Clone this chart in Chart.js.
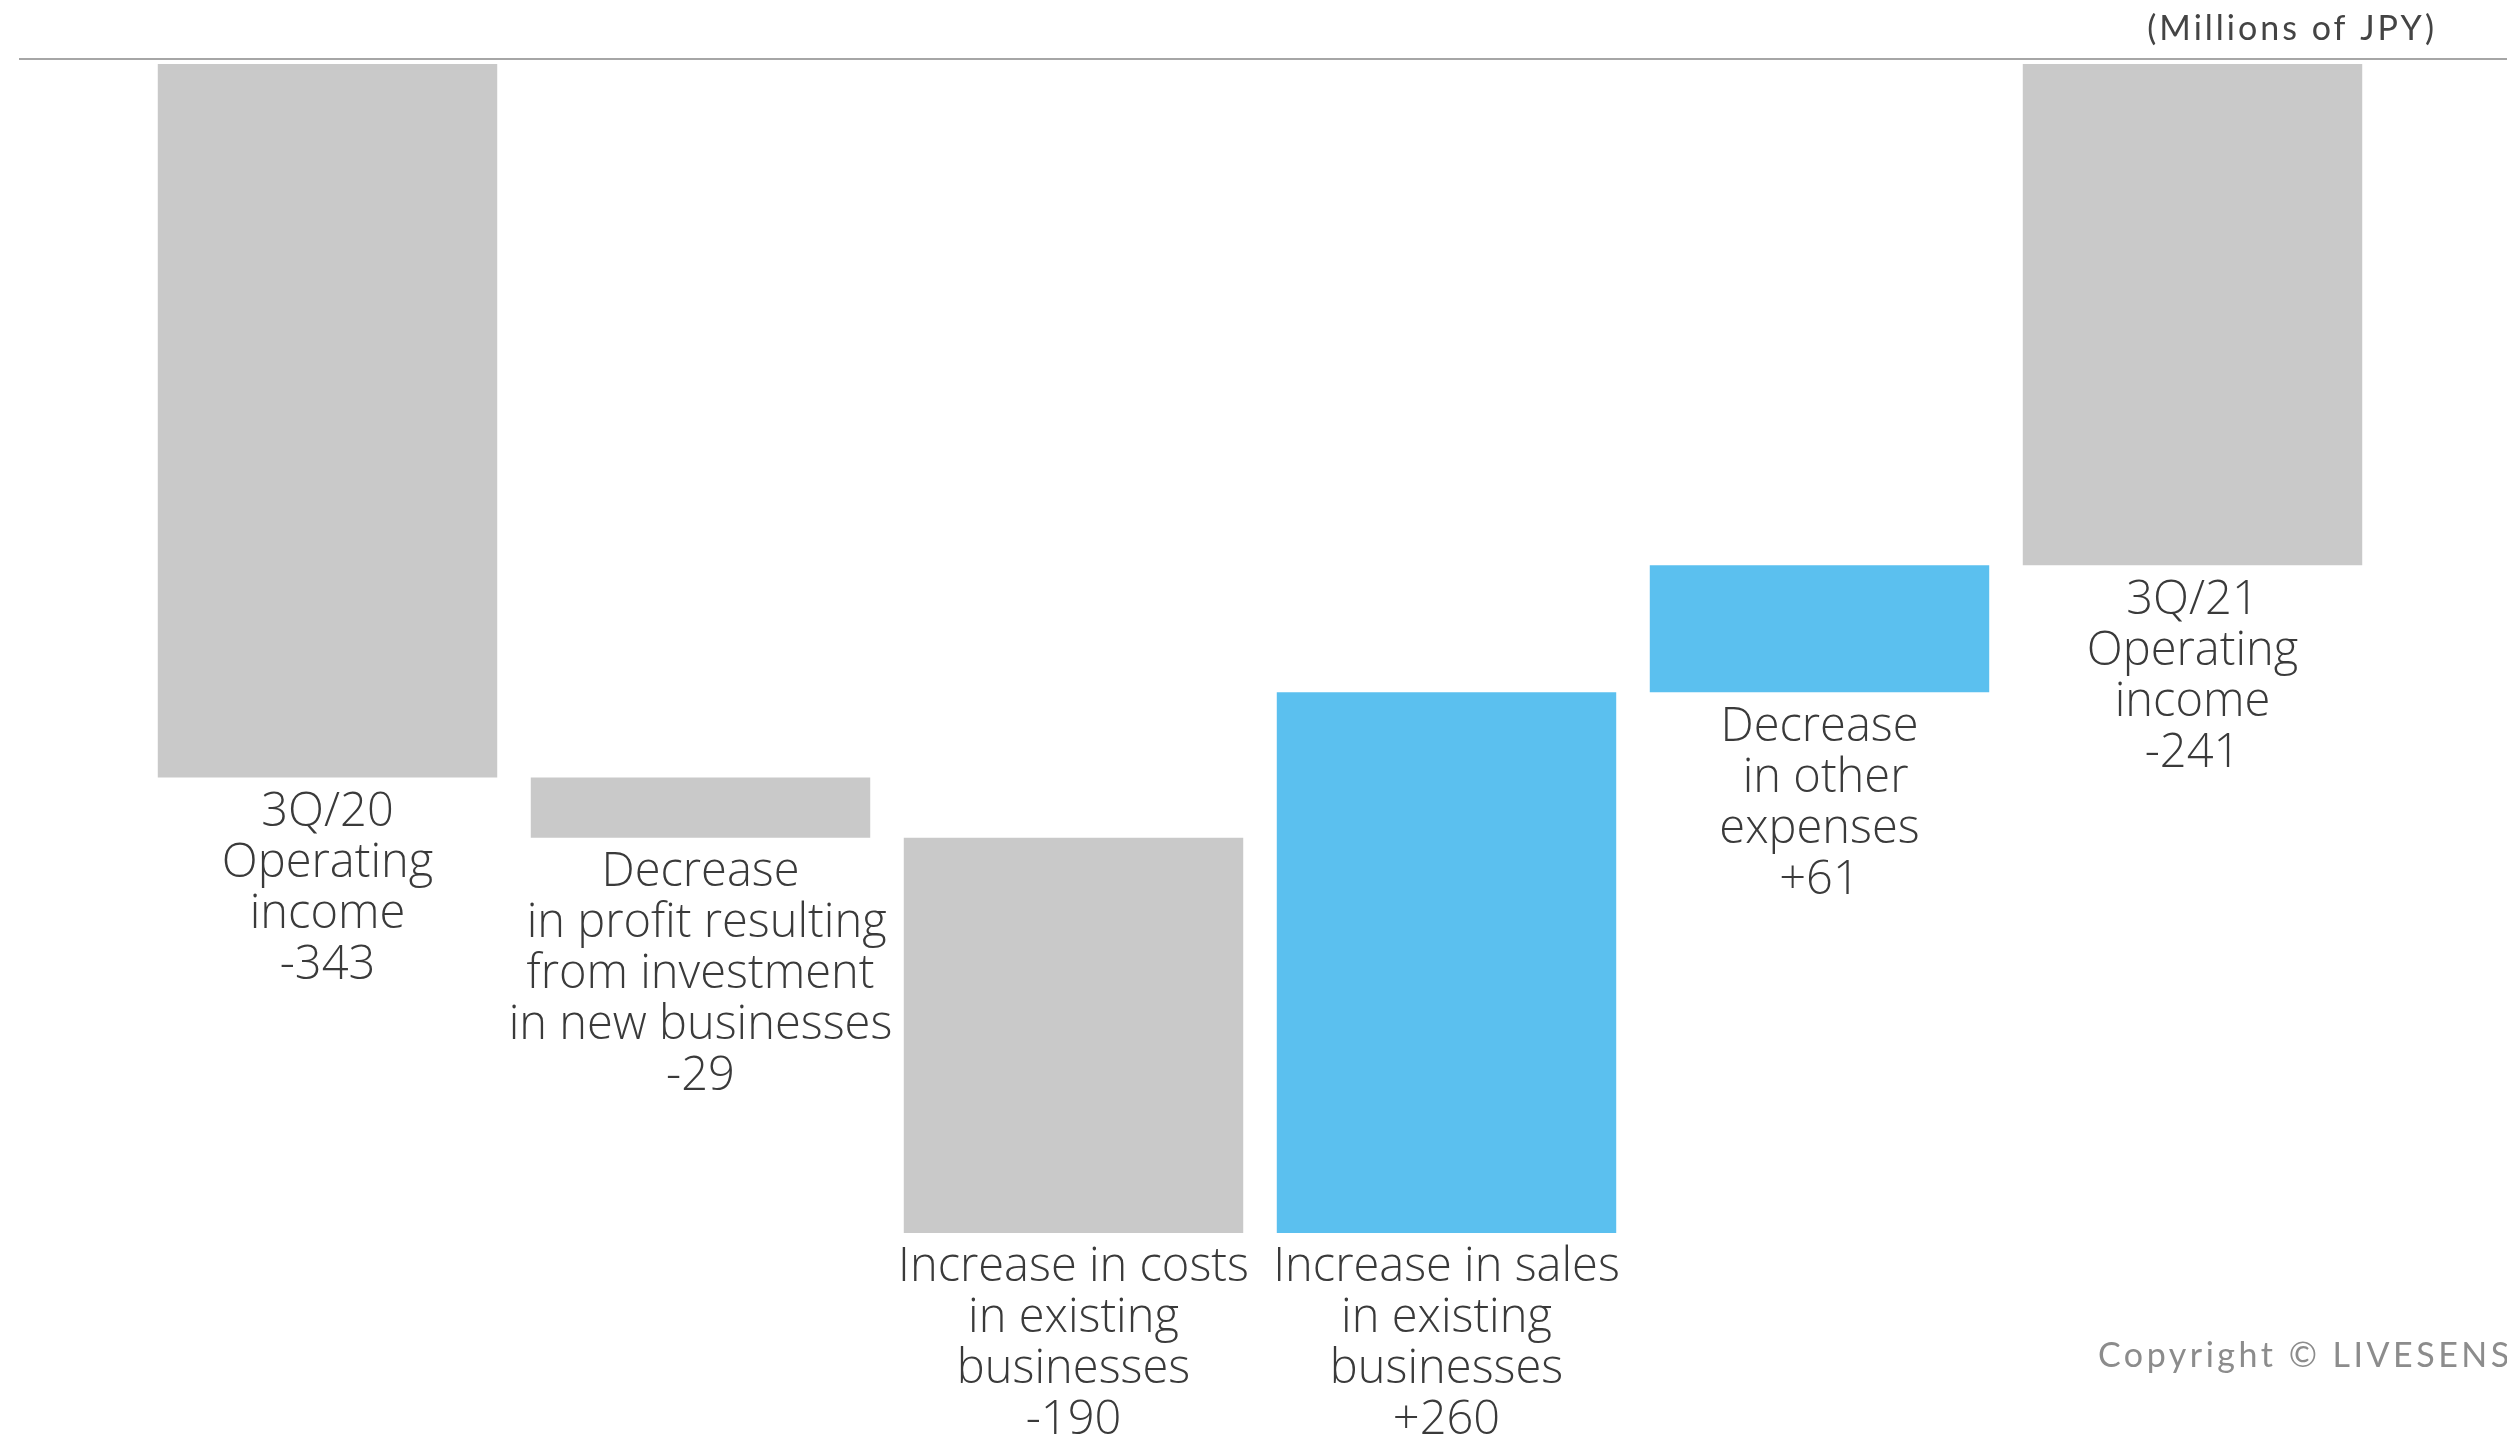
<!DOCTYPE html>
<html>
<head>
<meta charset="utf-8">
<title>Operating income bridge</title>
<script src="https://cdn.jsdelivr.net/npm/chart.js"></script>
<style>
    html, body { margin: 0; padding: 0; background: #fff; }
    #bridge { display: block; }
</style>
</head>
<body>
<canvas id="bridge" width="2507" height="1437"></canvas>
<script>
// Category captions, one array of lines per bar
const categories = [
    ['3Q/20', 'Operating', 'income'],
    ['Decrease', ' in profit resulting', 'from investment', 'in new businesses'],
    ['Increase in costs', 'in existing', 'businesses'],
    ['Increase in sales', 'in existing', 'businesses'],
    ['Decrease', ' in other', 'expenses'],
    ['3Q/21', 'Operating', 'income']
];
// Totals at both ends, changes in between (Millions of JPY)
const values = [-343, -29, -190, 260, 61, -241];
const isTotal = [true, false, false, false, false, true];

const GRAY = '#c9c9c9';
const BLUE = '#5bc0ef';

// floating [from, to] ranges for the waterfall
let running = 0;
const ranges = values.map((v, i) => {
    if (isTotal[i]) {
        running = v;
        return [0, v];
    }
    const r = [running, running + v];
    running += v;
    return r;
});
const colors = values.map((v, i) => (isTotal[i] || v < 0) ? GRAY : BLUE);

function fmt(v) {
    return v > 0 ? '+' + v : String(v);
}

// caption + value under each bar
const captions = {
    id: 'captions',
    afterDatasetsDraw(chart) {
        const ctx = chart.ctx;
        const meta = chart.getDatasetMeta(0);
        ctx.save();
        ctx.fillStyle = '#3a3a3a';
        ctx.font = '300 47px "Open Sans"';
        ctx.textAlign = 'center';
        ctx.textBaseline = 'middle';
        meta.data.forEach((bar, i) => {
            const bottom = Math.max(bar.y, bar.base);
            const lines = categories[i].concat([fmt(values[i])]);
            lines.forEach((t, j) => {
                ctx.fillText(t, bar.x, bottom + 35 + j * 51);
            });
        });
        ctx.restore();
    }
};

// top rule, unit note and footer
const frame = {
    id: 'frame',
    beforeDatasetsDraw(chart) {
        const ctx = chart.ctx;
        const top = chart.chartArea.top;
        ctx.save();
        ctx.strokeStyle = '#a6a6a6';
        ctx.lineWidth = 2;
        ctx.beginPath();
        ctx.moveTo(19, top);
        ctx.lineTo(chart.width, top);
        ctx.stroke();

        ctx.fillStyle = '#444';
        ctx.font = '34px Lato';
        ctx.textAlign = 'right';
        ctx.textBaseline = 'middle';
        ctx.letterSpacing = '3px';
        ctx.fillText('(Millions of JPY)', 2437, 29);

        ctx.fillStyle = '#8c8c8c';
        ctx.font = '34px Lato';
        ctx.textAlign = 'left';
        ctx.letterSpacing = '3.5px';
        ctx.fillText('Copyright \u00a9 LIVESENSE Inc.', 2098, 1356);
        ctx.restore();
    }
};

new Chart(document.getElementById('bridge'), {
    type: 'bar',
    data: {
        labels: categories,
        datasets: [{
            data: ranges,
            backgroundColor: colors,
            borderWidth: 0,
            borderSkipped: false,
            barPercentage: 0.91,
            categoryPercentage: 1.0
        }]
    },
    options: {
        responsive: false,
        animation: false,
        layout: {
            padding: {left: 141, right: 128, top: 59, bottom: 125}
        },
        plugins: {
            legend: {display: false},
            tooltip: {enabled: false}
        },
        scales: {
            x: {display: false},
            y: {display: false, min: -600, max: 2.4}
        }
    },
    plugins: [frame, captions]
});
</script>
</body>
</html>
